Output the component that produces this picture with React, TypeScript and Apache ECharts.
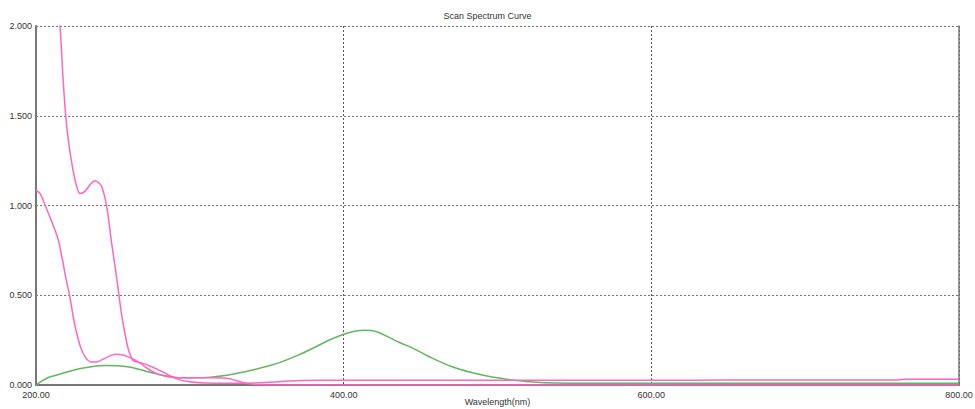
import React, { useEffect, useRef } from "react";
import * as echarts from "echarts";

const TITLE = "Scan Spectrum Curve";
const X_NAME = "Wavelength(nm)";

// Sample 1 (pink, strong UV absorbance)
const waveA = [213, 215.6, 217.5, 219.3, 221, 223, 226, 228.6, 232, 235.5, 238.4, 241, 243, 246, 249.2, 252.5, 255.5, 257.4, 260, 263, 267, 271.5, 277, 282.4, 288, 293, 300, 310, 330, 345, 356, 364, 372, 400, 500, 600, 650, 700, 760, 766, 800];
const absA = [2.2, 2.0, 1.72, 1.5, 1.365, 1.25, 1.12, 1.067, 1.08, 1.12, 1.138, 1.125, 1.1, 0.993, 0.789, 0.593, 0.4, 0.305, 0.2, 0.138, 0.125, 0.115, 0.095, 0.073, 0.048, 0.03, 0.018, 0.011, 0.01, 0.012, 0.017, 0.022, 0.025, 0.026, 0.026, 0.026, 0.028, 0.028, 0.028, 0.032, 0.032];

// Sample 2 (pink, lower UV absorbance)
const waveB = [200, 202.6, 206, 209, 214.5, 219.5, 222, 224, 226, 229, 232, 235.8, 240, 245, 249, 252, 256, 259.5, 263, 268, 273.7, 280, 286.7, 295, 305, 315, 324, 330, 335, 340, 346, 360, 500, 800];
const absB = [1.085, 1.067, 1.0, 0.937, 0.807, 0.593, 0.49, 0.39, 0.305, 0.21, 0.155, 0.128, 0.13, 0.15, 0.165, 0.171, 0.168, 0.158, 0.145, 0.12, 0.085, 0.058, 0.045, 0.04, 0.04, 0.041, 0.037, 0.025, 0.012, 0.005, 0.001, 0.0, 0.0, 0.0];

// Sample 3 (green, visible band near 414 nm)
const waveC = [200, 203, 208, 213, 220, 228, 236, 245.5, 253, 260.6, 268, 275.8, 284, 293, 303, 315, 323, 330, 340, 351.6, 360, 370, 380, 390, 400, 407, 414, 421, 428, 436, 445.5, 456, 471, 488.6, 506, 523, 538, 560, 600, 700, 800];
const absC = [0.0, 0.018, 0.042, 0.054, 0.072, 0.091, 0.102, 0.108, 0.107, 0.1, 0.085, 0.067, 0.052, 0.041, 0.04, 0.045, 0.053, 0.064, 0.082, 0.107, 0.13, 0.165, 0.205, 0.248, 0.283, 0.3, 0.305, 0.298, 0.272, 0.238, 0.203, 0.156, 0.1, 0.058, 0.032, 0.017, 0.011, 0.01, 0.01, 0.01, 0.01];

const PINK = "#ff66c0";
const GREEN = "#5fb85f";

const zip = (xs: number[], ys: number[]) => xs.map((x, i) => [x, ys[i]]);

export default function App() {
  const ref = useRef<HTMLDivElement>(null);

  useEffect(() => {
    if (!ref.current) return;
    const chart = echarts.init(ref.current, undefined, { renderer: "svg" });
    const font = "'Liberation Sans', Arial, sans-serif";
    chart.setOption({
      animation: false,
      backgroundColor: "#ffffff",
      title: {
        text: TITLE,
        left: "center",
        top: 6,
        textStyle: { fontSize: 9, fontWeight: "normal", color: "#333", fontFamily: font },
      },
      grid: { left: 36, right: 16, top: 26, bottom: 24, containLabel: false, outerBoundsMode: "none" },
      xAxis: [
        {
          type: "value",
          min: 200,
          max: 800,
          interval: 200,
          name: X_NAME,
          nameLocation: "middle",
          nameGap: 12,
          nameMoveOverlap: false,
          nameTextStyle: { fontSize: 9, color: "#333", fontFamily: font },
          axisLine: { show: true, lineStyle: { color: "#777", width: 2 } },
          axisTick: { show: false },
          axisLabel: {
            fontSize: 9,
            color: "#333",
            fontFamily: font,
            margin: 5,
            formatter: (v: number) => v.toFixed(2),
          },
          splitLine: { show: true, lineStyle: { color: "#555", type: [2, 2], width: 1 } },
        },
        {
          type: "value",
          position: "top",
          min: 200,
          max: 800,
          axisLine: { show: true, lineStyle: { color: "#777", width: 2 } },
          axisTick: { show: false },
          axisLabel: { show: false },
          splitLine: { show: false },
        },
      ],
      yAxis: [
        {
          type: "value",
          min: 0,
          max: 2,
          interval: 0.5,
          axisLine: { show: true, lineStyle: { color: "#777", width: 2 } },
          axisTick: { show: false },
          axisLabel: {
            fontSize: 9,
            color: "#333",
            fontFamily: font,
            margin: 4,
            formatter: (v: number) => v.toFixed(3),
          },
          splitLine: { show: true, lineStyle: { color: "#777", type: [2, 2], width: 1 } },
        },
        {
          type: "value",
          position: "right",
          min: 0,
          max: 2,
          axisLine: { show: true, lineStyle: { color: "#777", width: 1.5 } },
          axisTick: { show: false },
          axisLabel: { show: false },
          splitLine: { show: false },
        },
      ],
      series: [
        {
          type: "line",
          data: zip(waveC, absC),
          smooth: 0.3,
          showSymbol: false,
          lineStyle: { color: GREEN, width: 1.5 },
        },
        {
          type: "line",
          data: zip(waveB, absB),
          smooth: 0.3,
          showSymbol: false,
          lineStyle: { color: PINK, width: 1.5 },
        },
        {
          type: "line",
          data: zip(waveA, absA),
          smooth: 0.3,
          showSymbol: false,
          clip: true,
          lineStyle: { color: PINK, width: 1.5 },
        },
      ],
    });
    return () => chart.dispose();
  }, []);

  return (
    <div
      ref={ref}
      style={{ position: "fixed", left: 0, top: 0, width: 975, height: 409, background: "#fff" }}
    />
  );
}
